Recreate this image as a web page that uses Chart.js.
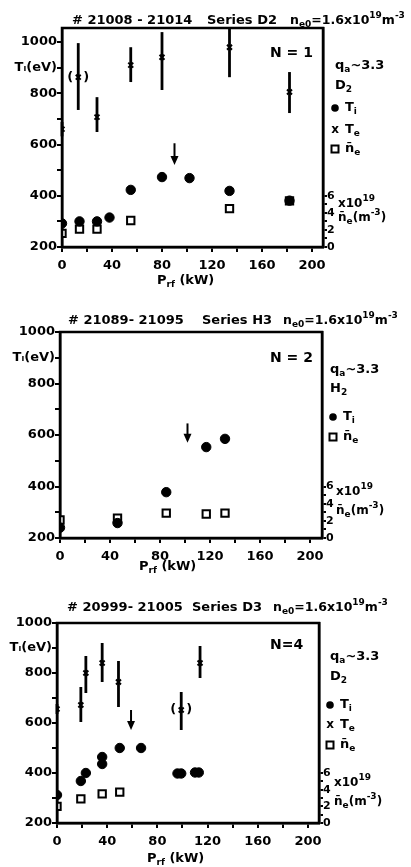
<!DOCTYPE html>
<html>
<head>
<meta charset="utf-8">
<script src="https://cdn.jsdelivr.net/npm/chart.js@4.4.1/dist/chart.umd.min.js"></script>
<style>
  html, body { margin: 0; padding: 0; background: #fff; }
  canvas.panel { position: absolute; left: 0; }
</style>
</head>
<body>
<canvas id="c1" class="panel" width="411" height="292" style="top:0px"></canvas>
<canvas id="c2" class="panel" width="411" height="288" style="top:292px"></canvas>
<canvas id="c3" class="panel" width="411" height="287" style="top:580px"></canvas>
<script>
// Axis ticks (shared by all three panels)
const xTicks = [0, 20, 40, 60, 80, 100, 120, 140, 160, 180, 200];
const xTickLabels = ['0', '', '40', '', '80', '', '120', '', '160', '', '200'];
const tiTicks = [200, 300, 400, 500, 600, 700, 800, 900, 1000];
const tiTickLabels = ['200', '', '400', '', '600', '', '800', 'T\u1D62(eV)', '1000'];
const neTicks = [0, 1, 2, 3, 4, 5, 6];
const neTickLabels = ['0', '', '2', '', '4', '', '6'];

// Series D2, N = 1
const s1TiP = [0, 14, 28, 38, 55, 80, 102, 134, 182];
const s1Ti = [292, 300, 300, 315, 423, 473, 469, 419, 381];
const s1NeP = [0, 14, 28, 55, 134, 182];
const s1Ne = [1.6, 2.1, 2.1, 3.1, 4.5, 5.4];
const s1TeP = [0, 13, 28, 55, 80, 134, 182];
const s1Te = [660, 863, 707, 910, 941, 980, 805];
const s1TeLo = [632, 735, 649, 844, 813, 863, 723];
const s1TeHi = [688, 996, 785, 980, 1039, 1052, 883];
const s1TeBracket = [13];
const s1Arrow = [90, 605, 520];

// Series H3, N = 2
const s2TiP = [0, 46, 85, 117, 132];
const s2Ti = [240, 258, 378, 553, 585];
const s2NeP = [0, 46, 85, 117, 132];
const s2Ne = [2.1, 2.3, 2.9, 2.8, 2.9];
const s2Arrow = [102, 645, 570];

// Series D3, N = 4
const s3TiP = [0, 19, 23, 36, 36, 50, 67, 96, 99, 110, 113];
const s3Ti = [312, 368, 400, 464, 436, 500, 500, 398, 398, 402, 402];
const s3NeP = [0, 19, 36, 50];
const s3Ne = [2.0, 2.9, 3.5, 3.7];
const s3TeP = [0, 19, 23, 36, 49, 99, 114];
const s3Te = [656, 672, 800, 840, 764, 652, 840];
const s3TeLo = [636, 604, 720, 764, 664, 572, 780];
const s3TeHi = [676, 744, 868, 920, 848, 724, 908];
const s3TeBracket = [99];
const s3Arrow = [59, 652, 572];

const FONT = '"DejaVu Sans"';
const pts = (xs, ys) => xs.map((x, i) => ({ x, y: ys[i] }));

// text with _{sub} and ^{sup}
function drawRich(ctx, x, y, str, size) {
  const re = /([_^])\{([^}]*)\}|([^_^]+)/g;
  let m, cx = x;
  ctx.textBaseline = 'middle';
  ctx.textAlign = 'left';
  while ((m = re.exec(str))) {
    let t = m[3], fs = size, dy = 0;
    if (m[1]) {
      t = m[2];
      fs = Math.round(size * 0.72);
      dy = m[1] === '_' ? size * 0.3 : -size * 0.42;
    }
    ctx.font = `bold ${fs}px ${FONT}`;
    ctx.fillText(t, cx, y + dy);
    cx += ctx.measureText(t).width;
  }
  return cx;
}

function makePanel(id, g, d) {
  const datasets = [{
    label: 'Ti', data: pts(d.tiP, d.ti), yAxisID: 'y',
    pointStyle: 'circle', pointRadius: 4.7, backgroundColor: '#000', borderColor: '#000', borderWidth: 1
  }];
  if (d.teP) {
    datasets.push({
      label: 'Te', data: pts(d.teP, d.te), yAxisID: 'y',
      pointStyle: 'crossRot', pointRadius: 3.5, borderColor: '#000', borderWidth: 2
    });
  }
  datasets.push({
    label: 'ne', data: pts(d.neP, d.ne), yAxisID: 'yn',
    pointStyle: 'rect', pointRadius: 5.2, backgroundColor: '#fff', borderColor: '#000', borderWidth: 2
  });

  const tickFont = { family: 'DejaVu Sans', weight: 'bold', size: 13 };
  const gridOpt = { drawOnChartArea: false, drawTicks: true, tickLength: 5, color: '#000', lineWidth: 2 };
  const borderOpt = { display: true, color: '#000', width: 2.5 };
  const rightW = 30;

  const annot = {
    id: 'annot',
    beforeDatasetsDraw(chart) {
      const ctx = chart.ctx, xs = chart.scales.x, ys = chart.scales.y;
      ctx.save();
      ctx.strokeStyle = '#000';
      ctx.lineWidth = 2.8;
      (d.teP || []).forEach((p, i) => {
        const px = xs.getPixelForValue(p);
        ctx.beginPath();
        ctx.moveTo(px, ys.getPixelForValue(d.teLo[i]));
        ctx.lineTo(px, ys.getPixelForValue(d.teHi[i]));
        ctx.stroke();
      });
      ctx.restore();
    },
    afterDraw(chart) {
      const ctx = chart.ctx, a = chart.chartArea, xs = chart.scales.x, ys = chart.scales.y;
      ctx.save();
      ctx.strokeStyle = '#000';
      ctx.fillStyle = '#000';
      ctx.lineWidth = 2.5;
      ctx.strokeRect(a.left, a.top, a.right - a.left, a.bottom - a.top);

      // arrow
      const ax = xs.getPixelForValue(d.arrow[0]);
      const ay1 = ys.getPixelForValue(d.arrow[1]), ay2 = ys.getPixelForValue(d.arrow[2]);
      ctx.lineWidth = 2;
      ctx.beginPath(); ctx.moveTo(ax, ay1); ctx.lineTo(ax, ay2 - 5); ctx.stroke();
      ctx.beginPath(); ctx.moveTo(ax - 4, ay2 - 9); ctx.lineTo(ax + 4, ay2 - 9); ctx.lineTo(ax, ay2); ctx.closePath(); ctx.fill();

      // brackets around uncertain Te points
      (d.bracket || []).forEach(p => {
        const i = d.teP.indexOf(p);
        const px = xs.getPixelForValue(p), py = ys.getPixelForValue(d.te[i]);
        ctx.font = `bold 13px ${FONT}`;
        ctx.textAlign = 'center'; ctx.textBaseline = 'middle';
        ctx.fillText('(', px - 8, py);
        ctx.fillText(')', px + 8, py);
      });

      const off = g.top;
      // titles and labels
      d.texts.forEach(t => drawRich(ctx, t[0], t[1] - off, t[2], t[3]));

      // legend markers
      const lx = d.legendX;
      ctx.beginPath(); ctx.arc(lx, d.legendY[0] - off, 3.8, 0, Math.PI * 2); ctx.fill();
      drawRich(ctx, lx + 10, d.legendY[0] - off, 'T_{i}', 13);
      let k = 1;
      if (d.teP) {
        ctx.font = `bold 12px ${FONT}`;
        ctx.textAlign = 'center'; ctx.textBaseline = 'middle';
        ctx.fillText('x', lx, d.legendY[k] - off);
        drawRich(ctx, lx + 10, d.legendY[k] - off, 'T_{e}', 13);
        k++;
      }
      ctx.lineWidth = 2;
      ctx.strokeRect(lx - 3.5, d.legendY[k] - off - 3.5, 7, 7);
      drawRich(ctx, lx + 10, d.legendY[k] - off, 'n\u0304_{e}', 13);

      // P_rf (kW)
      drawRich(ctx, d.prf[0], d.prf[1] - off, 'P_{rf} (kW)', 13);
      ctx.restore();
    }
  };

  return new Chart(document.getElementById(id), {
    type: 'scatter',
    data: { datasets },
    plugins: [annot],
    options: {
      responsive: false,
      animation: false,
      events: [],
      layout: { padding: { top: g.t, left: 0, right: 411 - g.r - rightW, bottom: 0 } },
      plugins: { legend: { display: false }, tooltip: { enabled: false } },
      scales: {
        x: {
          type: 'linear', position: 'bottom', min: 0, max: g.xMax,
          afterBuildTicks: s => { s.ticks = xTicks.map(v => ({ value: v })); },
          afterFit: s => { s.height = g.h - g.b; },
          ticks: { font: tickFont, color: '#000', padding: 6, maxRotation: 0, autoSkip: false,
            callback: (v, i) => xTickLabels[i] },
          grid: gridOpt, border: borderOpt
        },
        y: {
          type: 'linear', position: 'left', min: 200, max: g.yMax,
          afterBuildTicks: s => { s.ticks = tiTicks.map(v => ({ value: v })); },
          afterFit: s => { s.width = g.l; },
          ticks: { font: tickFont, color: '#000', padding: 0, autoSkip: false,
            callback: (v, i) => tiTickLabels[i] },
          grid: gridOpt, border: borderOpt
        },
        yn: {
          type: 'linear', position: 'right', min: 0, max: (g.yMax - 200) / 200 * 6,
          afterBuildTicks: s => { s.ticks = neTicks.map(v => ({ value: v })); },
          afterFit: s => { s.width = rightW; },
          ticks: { font: { family: 'DejaVu Sans', weight: 'bold', size: 11 }, color: '#000', padding: 0, autoSkip: false,
            callback: (v, i) => neTickLabels[i] },
          grid: { drawOnChartArea: false, drawTicks: true, tickLength: 4, color: '#000', lineWidth: 2 },
          border: borderOpt
        }
      }
    }
  });
}

makePanel('c1', { top: 0, h: 292, l: 62, r: 323, t: 28, b: 247, yMax: 1055, xMax: 208.8 }, {
  tiP: s1TiP, ti: s1Ti, neP: s1NeP, ne: s1Ne,
  teP: s1TeP, te: s1Te, teLo: s1TeLo, teHi: s1TeHi, bracket: s1TeBracket, arrow: s1Arrow,
  legendX: 335, legendY: [108, 130, 149], prf: [157, 281],
  texts: [
    [72, 21, '# 21008 - 21014', 13], [207, 21, 'Series D2', 13], [290, 21, 'n_{e0}=1.6x10^{19}m^{-3}', 12.5],
    [270, 53, 'N = 1', 14], [335, 66, 'q_{a}~3.3', 13], [335, 86, 'D_{2}', 13],
    [338, 204, 'x10^{19}', 12], [338, 218, 'n\u0304_{e}(m^{-3})', 12]
  ]
});

makePanel('c2', { top: 292, h: 288, l: 60, r: 322, t: 40, b: 246, yMax: 1000, xMax: 209.6 }, {
  tiP: s2TiP, ti: s2Ti, neP: s2NeP, ne: s2Ne, arrow: s2Arrow,
  legendX: 333, legendY: [417, 437], prf: [139, 567],
  texts: [
    [68, 321, '# 21089- 21095', 13], [202, 321, 'Series H3', 13], [283, 321, 'n_{e0}=1.6x10^{19}m^{-3}', 12.5],
    [270, 358, 'N = 2', 14], [330, 370, 'q_{a}~3.3', 13], [330, 389, 'H_{2}', 13],
    [336, 492, 'x10^{19}', 12], [336, 511, 'n\u0304_{e}(m^{-3})', 12]
  ]
});

makePanel('c3', { top: 580, h: 287, l: 57, r: 319, t: 43, b: 243, yMax: 1000, xMax: 208.8 }, {
  tiP: s3TiP, ti: s3Ti, neP: s3NeP, ne: s3Ne,
  teP: s3TeP, te: s3Te, teLo: s3TeLo, teHi: s3TeHi, bracket: s3TeBracket, arrow: s3Arrow,
  legendX: 330, legendY: [705, 725, 745], prf: [147, 859],
  texts: [
    [67, 608, '# 20999- 21005', 13], [192, 608, 'Series D3', 13], [273, 608, 'n_{e0}=1.6x10^{19}m^{-3}', 12.5],
    [270, 645, 'N=4', 14], [330, 657, 'q_{a}~3.3', 13], [330, 677, 'D_{2}', 13],
    [334, 783, 'x10^{19}', 12], [334, 802, 'n\u0304_{e}(m^{-3})', 12]
  ]
});
</script>
</body>
</html>
